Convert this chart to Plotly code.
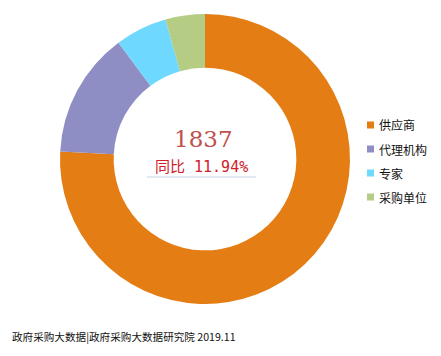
import plotly.graph_objects as go

categories = ["供应商", "代理机构", "专家", "采购单位"]
values = [1393, 257, 106, 81]
colors = ["#E47D14", "#8F8EC4", "#6FD8FE", "#B5CC85"]
total_label = "1837"
yoy_label = "同比 11.94%"
footer = "政府采购大数据|政府采购大数据研究院 2019.11"

# page body has an 8px margin: the figure is drawn 8px in from the window edge
OFF = 8
W, H = 441 - OFF, 356 - OFF


def px(x):
    return (x - OFF) / W


def py(y):
    return (H - (y - OFF)) / H


cx, cy, r = 205, 159, 145

fig = go.Figure(go.Pie(
    labels=categories,
    values=values,
    hole=0.63,
    sort=False,
    direction="clockwise",
    rotation=0,
    marker=dict(colors=colors, line=dict(width=0)),
    textinfo="none",
    hoverinfo="label+value+percent",
    domain=dict(x=[px(cx - r), px(cx + r)], y=[py(cy + r), py(cy - r)]),
))

# legend drawn as squares + labels on the right
leg_x, leg_y0, leg_dy, sq = 367, 125, 24, 7
shapes = []
annotations = []
for i, (c, col) in enumerate(zip(categories, colors)):
    yc = leg_y0 + i * leg_dy
    shapes.append(dict(type="rect", xref="paper", yref="paper",
                       x0=px(leg_x), x1=px(leg_x + sq),
                       y0=py(yc + sq / 2), y1=py(yc - sq / 2),
                       fillcolor=col, line=dict(width=0)))
    annotations.append(dict(text=c, x=px(leg_x + sq + 3), y=py(yc),
                            xref="paper", yref="paper", xanchor="left", yanchor="middle",
                            showarrow=False,
                            font=dict(size=12, family="Noto Sans CJK SC", color="#111111")))

annotations += [
    dict(text=total_label, x=px(203), y=py(139), xref="paper", yref="paper",
         showarrow=False, font=dict(size=23, family="DejaVu Serif", color="#C0504D")),
    dict(text=yoy_label, x=px(201), y=py(167), xref="paper", yref="paper",
         showarrow=False, font=dict(size=15, family="DejaVu Sans Mono, Noto Sans CJK SC", color="#D0202A")),
    dict(text=footer, x=px(10), y=py(336), xref="paper", yref="paper",
         xanchor="left", yanchor="middle", showarrow=False,
         font=dict(size=10.6, family="Noto Sans CJK SC", color="#111111")),
]
shapes.append(dict(type="line", xref="paper", yref="paper", x0=px(147), x1=px(256),
                   y0=py(177), y1=py(177), line=dict(color="#C5D3E6", width=1)))

fig.update_layout(
    width=W, height=H,
    margin=dict(l=0, r=0, t=0, b=0),
    paper_bgcolor="white",
    font=dict(family="Noto Sans CJK SC", color="#111111"),
    showlegend=False,
    annotations=annotations,
    shapes=shapes,
)

fig.write_html("out.html")
